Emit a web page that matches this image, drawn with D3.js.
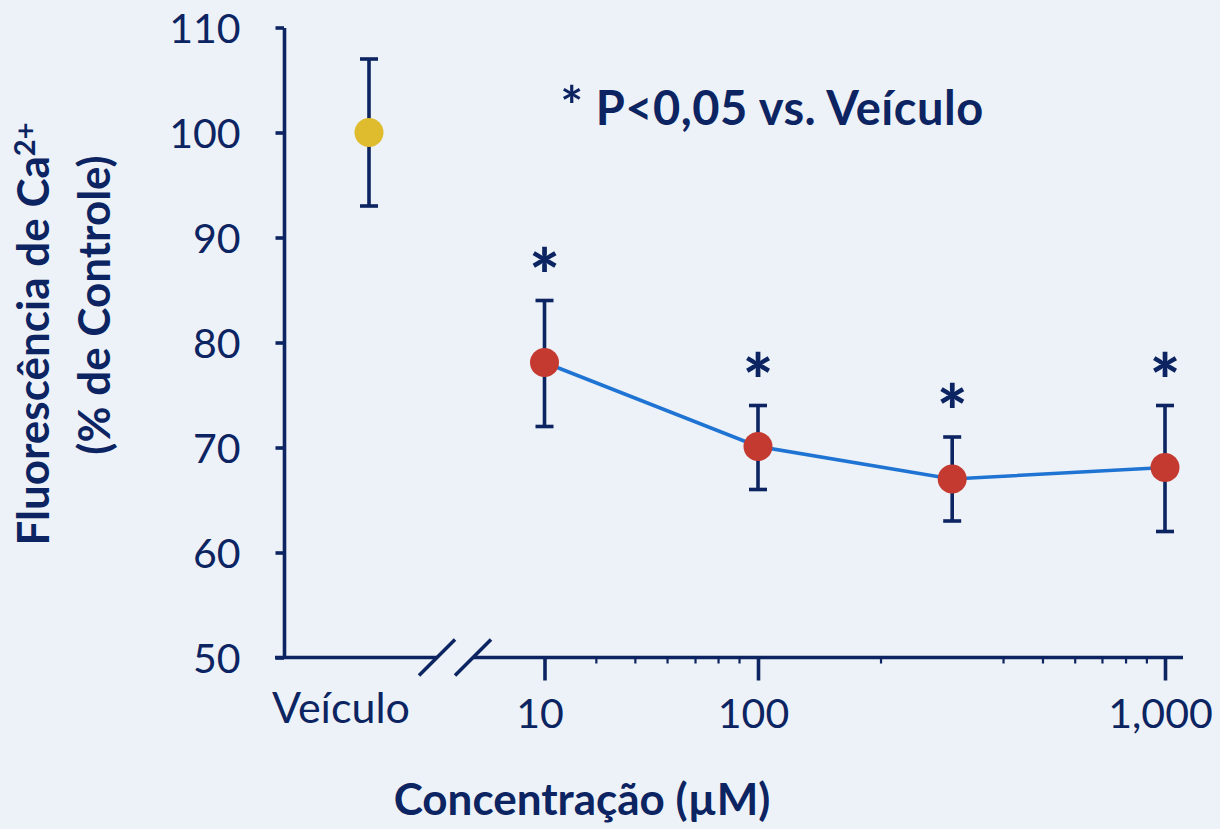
<!DOCTYPE html>
<html>
<head>
<meta charset="utf-8">
<script src="https://cdn.jsdelivr.net/npm/d3@7/dist/d3.min.js"></script>
<style>
  html, body { margin: 0; padding: 0; background: #edf2f8; }
  svg { display: block; }
  text { font-family: Lato, "Open Sans", sans-serif; fill: #0c2461; }
</style>
</head>
<body>
<svg id="chart" width="1220" height="829"></svg>
<script>
// ---- data ----
const vehicleLabel = "Veículo";
const vehicleMean = 100;
const vehicleLow = 93;
const vehicleHigh = 107;

const concentrations = [10, 100, 300, 1000];
const meanValues = [78.1, 70.1, 67, 68.1];
const lowValues = [72, 66, 63, 62];
const highValues = [84, 74, 71, 74];
const significant = [true, true, true, true];

const yTicks = [50, 60, 70, 80, 90, 100, 110];
const xMajorTicks = [10, 100, 1000];
const xMajorLabels = ["10", "100", "1,000"];
const xMinorTicks = [17.4, 26.5, 37.5, 50.7, 65, 81.5, 200, 400, 500, 600, 700, 800, 900];

const legendText = "* P<0,05 vs. Veículo";
const xTitle = "Concentração (µM)";
const yTitle1 = "Fluorescência de Ca";
const yTitle1Sup = "2+";
const yTitle2 = "(% de Controle)";

// ---- layout ----
const navy = "#0c2461";
const axisW = 3.6;
const svg = d3.select("#chart");

const y = d3.scaleLinear().domain([50, 110]).range([657.5, 27.5]);
const x = d3.scaleLog().domain([10, 100, 1000]).range([544.5, 758, 1165]);
const xVeh = d3.scaleOrdinal().domain([vehicleLabel]).range([369]);
const axisY = 284;
const axisLeftEnd = 275;
const axisRightEnd = 1183;
const breakGap = [437, 473];

// y axis
const yAxisG = svg.append("g").attr("transform", `translate(${axisY},0)`)
  .call(d3.axisLeft(y).tickValues(yTicks).tickSize(8.5).tickSizeOuter(0).tickPadding(35));
yAxisG.select(".domain").attr("stroke", navy).attr("stroke-width", axisW);
yAxisG.selectAll(".tick line").attr("stroke", navy).attr("stroke-width", axisW);
yAxisG.selectAll(".tick text").style("font-size", "41px").attr("fill", navy).attr("dy", "0.36em");

// x axis baseline segments with break
const base = y(50);
svg.append("line").attr("x1", axisLeftEnd).attr("x2", breakGap[0]).attr("y1", base).attr("y2", base)
  .attr("stroke", navy).attr("stroke-width", axisW);
svg.append("line").attr("x1", breakGap[1]).attr("x2", axisRightEnd).attr("y1", base).attr("y2", base)
  .attr("stroke", navy).attr("stroke-width", axisW);
breakGap.forEach(bx => {
  svg.append("line").attr("x1", bx - 18).attr("y1", base + 18).attr("x2", bx + 18).attr("y2", base - 18)
    .attr("stroke", navy).attr("stroke-width", axisW);
});

// major ticks
const xMajG = svg.append("g").attr("transform", `translate(0,${base})`)
  .call(d3.axisBottom(x).tickValues(xMajorTicks).tickSize(23).tickPadding(18)
    .tickFormat((d, i) => xMajorLabels[i]));
xMajG.select(".domain").remove();
xMajG.selectAll(".tick line").attr("stroke", navy).attr("stroke-width", axisW);
xMajG.selectAll(".tick text").style("font-size", "41px").attr("fill", navy).attr("dx", "-5");

// minor ticks
const xMinG = svg.append("g").attr("transform", `translate(0,${base})`)
  .call(d3.axisBottom(x).tickValues(xMinorTicks).tickSize(6).tickFormat(""));
xMinG.select(".domain").remove();
xMinG.selectAll(".tick line").attr("stroke", navy).attr("stroke-width", 2.2);

// vehicle label
svg.append("text").attr("x", xVeh(vehicleLabel) - 28).attr("y", 723).attr("text-anchor", "middle")
  .style("font-size", "43px").text(vehicleLabel);

// error bars
const capW = 9;
function errorBar(cx, lo, hi) {
  svg.append("line").attr("x1", cx).attr("x2", cx).attr("y1", y(lo)).attr("y2", y(hi))
    .attr("stroke", navy).attr("stroke-width", 3.6);
  [lo, hi].forEach(v => svg.append("line").attr("x1", cx - capW).attr("x2", cx + capW)
    .attr("y1", y(v)).attr("y2", y(v)).attr("stroke", navy).attr("stroke-width", 3.6));
}
errorBar(xVeh(vehicleLabel), vehicleLow, vehicleHigh);
concentrations.forEach((c, i) => errorBar(x(c), lowValues[i], highValues[i]));

// connecting line
const pts = concentrations.map((c, i) => [c, meanValues[i]]);
svg.append("path").datum(pts)
  .attr("d", d3.line().x(d => x(d[0])).y(d => y(d[1])))
  .attr("fill", "none").attr("stroke", "#1f74d3").attr("stroke-width", 3.6);

// points
svg.append("circle").attr("cx", xVeh(vehicleLabel)).attr("cy", y(vehicleMean)).attr("r", 14.5)
  .attr("fill", "#dfbb2e");
svg.selectAll("circle.pt").data(pts).join("circle").attr("class", "pt")
  .attr("cx", d => x(d[0])).attr("cy", d => y(d[1])).attr("r", 14.5).attr("fill", "#c43a30");

// asterisks
concentrations.forEach((c, i) => {
  if (!significant[i]) return;
  svg.append("text").attr("x", x(c)).attr("y", y(highValues[i]) - 42).attr("dy", "0.6em")
    .attr("text-anchor", "middle").style("font-size", "72px").style("font-weight", 900).text("*");
});

// legend
const leg = svg.append("text").attr("x", 772).attr("y", 125).attr("text-anchor", "middle")
  .style("font-size", "47px").style("font-weight", 700).style("letter-spacing", "0.5px");
leg.append("tspan").style("font-size", "54px").text(legendText.slice(0, 1));
leg.append("tspan").text(legendText.slice(1));

// x title
svg.append("text").attr("x", 582).attr("y", 815).attr("text-anchor", "middle")
  .style("font-size", "44px").style("font-weight", 700).text(xTitle);

// y title
const t1 = svg.append("text").attr("transform", "translate(49,334) rotate(-90)").attr("text-anchor", "middle")
  .style("font-size", "44px").style("font-weight", 700);
t1.append("tspan").text(yTitle1);
t1.append("tspan").attr("dy", "-0.5em").style("font-size", "29px").text(yTitle1Sup);
svg.append("text").attr("transform", "translate(110,305) rotate(-90)").attr("text-anchor", "middle")
  .style("font-size", "44px").style("font-weight", 700).text(yTitle2);
</script>
</body>
</html>
